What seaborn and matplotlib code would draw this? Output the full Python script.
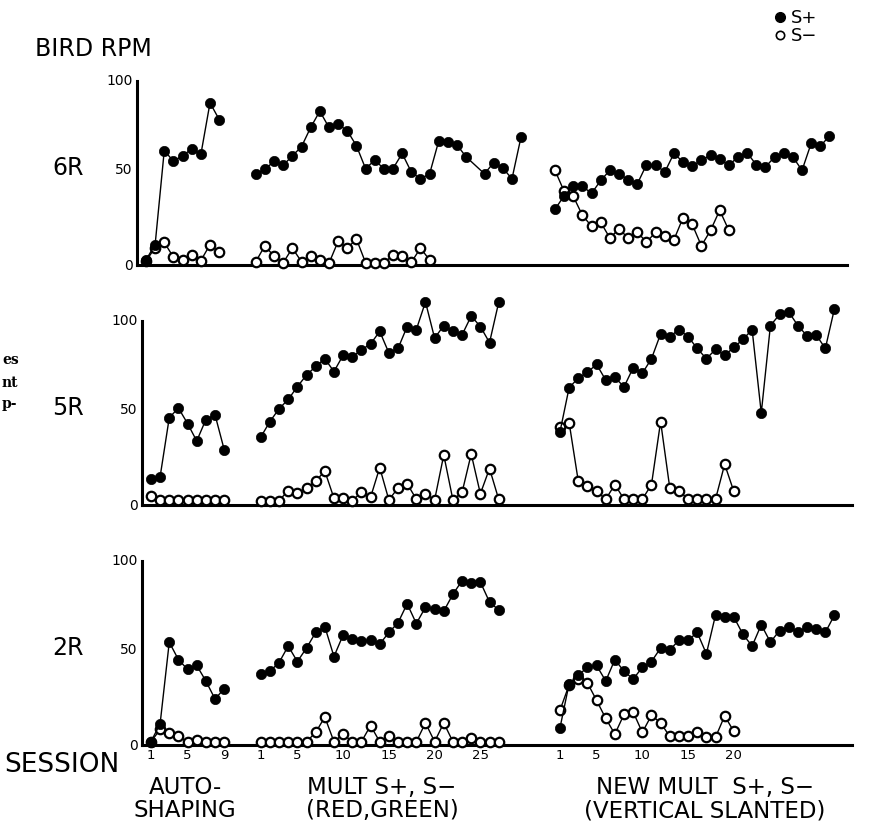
import numpy as np
import matplotlib
matplotlib.use('Agg')
import matplotlib.pyplot as plt
import matplotlib.transforms as mtrans
import seaborn as sns
from matplotlib.lines import Line2D

sns.set_style('white')
plt.rcParams['font.family'] = ['DejaVu Sans']
plt.rcParams['text.color'] = 'black'
plt.rcParams['xtick.color'] = 'black'
plt.rcParams['ytick.color'] = 'black'

# session numbers where the phases start on one common x scale
AUTO = 0
MULT = 12
NEW = 44.7

# bird 6R
r6_auto_sp = [2.6, 10.5, 59, 53.5, 56.3, 59.8, 57, 83.6, 75]
r6_auto_sm = [2, 9, 11.7, 4, 2.6, 5.2, 2.3, 10.5, 6.6]
r6_mult_sess = list(range(1, 25)) + list(range(26, 31))  # no point drawn at session 25
r6_mult_sp = [47, 49.3, 53.5, 51.4, 56.3, 61, 70.9, 79.3, 70.9, 72.6, 69.2, 61.5, 49.7, 54, 49.7,
              49.7, 57.5, 47.9, 44.4, 47, 64, 63.2, 61.8, 55.7, 47, 52.8, 50, 44.4, 66.2]
r6_mult_sm = [1.7, 10, 4.4, 1.2, 8.7, 1.7, 4.4, 2.6, 0.9, 12.2, 8.7, 13.4, 1.2, 1.2, 1.2, 4.9, 4.4,
              1.4, 8.7, 2.6]
r6_new_sp = [28.7, 35.7, 40.6, 40.6, 36.9, 43.6, 48.8, 47, 44, 41.8, 51.7, 51.7, 47.9, 57.5, 53.1,
             51, 54, 56.6, 54.5, 51.4, 55.7, 57.8, 51.7, 50.5, 55.7, 57.5, 55.7, 48.8, 62.7, 61.3, 66.5]
r6_new_sm = [48.8, 38, 35.4, 25.6, 20, 22, 13.9, 18.6, 13.9, 16.9, 11.8, 16.9, 15.2, 13, 24.4, 20.9,
             9.9, 17.8, 28.2, 17.9]

# bird 5R
r5_auto_sp = [13.5, 14.6, 45, 50, 42, 33, 44, 46.5, 28.6]
r5_auto_sm = [4.4, 2.6, 2.6, 2.6, 2.6, 2.6, 2.6, 2.6, 2.6]
r5_mult_sp = [35, 43, 49.6, 54.4, 61, 67, 71.4, 75.4, 68.8, 77.2, 76.3, 80, 83, 89.5, 78.4, 80.7,
              92, 90.4, 104.7, 86, 92.5, 89.5, 87.7, 97.4, 92, 83.7, 104.4]
r5_mult_sm = [2.3, 2.3, 2.3, 7.4, 6.1, 8.8, 12.3, 17.5, 3.5, 3.5, 2.3, 6.5, 4, 19.3, 2.6, 8.8, 11,
              3, 5.8, 2.6, 25.8, 2.6, 6.5, 26.3, 5.8, 18.8, 3]
r5_new_sp = [37.7, 60.5, 65.4, 68.4, 72.5, 64.4, 65.8, 60.9, 70.7, 67.9, 75.4, 88.2, 86.8, 90.4,
             86.8, 80.7, 75.4, 80.2, 77.2, 81.2, 85.4, 90.4, 47.4, 92.5, 98.2, 99.5, 92.5, 87.2,
             87.7, 80.7, 101.2]
r5_new_sm = [40, 42.5, 12.3, 9.6, 7, 3, 10.5, 3, 3, 3, 10.5, 43, 8.8, 7.4, 3, 3, 3, 3, 21, 7]

# bird 2R
r2_auto_sp = [1.7, 11, 53, 44, 39, 41, 33, 23.7, 29]
r2_auto_sm = [1.7, 8, 6, 4.4, 1.7, 2.6, 1.4, 1.4, 1.4]
r2_mult_sp = [36.5, 38, 42.5, 51, 43, 50, 58, 61, 45.6, 56.7, 54.4, 53.5, 53.9, 52, 58, 63, 72.8,
              62.6, 71, 70, 69, 77.7, 84.7, 83.3, 84, 73.7, 69.6]
r2_mult_sm = [1.7, 1.7, 1.7, 1.7, 1.7, 1.7, 6.5, 14.4, 1.7, 5.6, 1.7, 1.7, 10, 1.7, 4.4, 1.7, 1.7,
              1.7, 11.4, 1.7, 11.4, 1.7, 1.7, 3.5, 1.7, 1.7, 1.7]
r2_new_sp = [8.8, 31.6, 36, 40, 41, 33, 44, 38, 34, 40, 43, 50, 49, 54, 54, 58, 47, 67, 66, 66, 57,
             51, 62, 53, 59, 61, 58, 61, 60, 58, 67]
r2_new_sm = [17.9, 31, 34, 32, 23, 13.7, 5.6, 15.8, 17, 6.5, 15.3, 11.4, 4.4, 4.4, 4.4, 6.5, 4, 4,
             15, 7]

birds = ['6R', '5R', '2R']
auto_ticks = [1, 5, 9]
mult_ticks = [1, 5, 10, 15, 20, 25]
new_ticks = [1, 5, 10, 15, 20]

W, H = 869, 832
fig = plt.figure(figsize=(W / 100, H / 100), dpi=100)


def px(x, y):
    return x / W, 1 - y / H


def serie(ax, start, vals, open_marker, sess=None):
    if sess is None:
        sess = range(1, len(vals) + 1)
    x = [start + s - 1 for s in sess]
    kw = dict(color='k', lw=1.0, marker='o', markeredgecolor='k', clip_on=False, errorbar=None)
    if open_marker:
        sns.lineplot(x=x, y=vals, ax=ax, markersize=6.8, markerfacecolor='white',
                     markeredgewidth=1.6, zorder=3, **kw)
    else:
        sns.lineplot(x=x, y=vals, ax=ax, markersize=7.4, markerfacecolor='k',
                     markeredgewidth=0.5, zorder=4, **kw)


# panel boxes: left edge, baseline (pixels)
boxes = [(137, 265), (142, 505), (142, 745)]
# (S+, S+ sessions, S-)
data = [
    [(r6_auto_sp, None, r6_auto_sm), (r6_mult_sp, r6_mult_sess, r6_mult_sm), (r6_new_sp, None, r6_new_sm)],
    [(r5_auto_sp, None, r5_auto_sm), (r5_mult_sp, None, r5_mult_sm), (r5_new_sp, None, r5_new_sm)],
    [(r2_auto_sp, None, r2_auto_sm), (r2_mult_sp, None, r2_mult_sm), (r2_new_sp, None, r2_new_sm)],
]
starts = [AUTO, MULT, NEW]

# nudge the "100" label down onto the top of the axis line
shift = mtrans.ScaledTranslation(0, -6 / 72, fig.dpi_scale_trans)

axes = []
for i, (left, base) in enumerate(boxes):
    ax = fig.add_axes([left / W, 1 - base / H, 710 / W, 194 / H])
    for st, (sp, sp_sess, sm) in zip(starts, data[i]):
        serie(ax, st, sm, True)
        serie(ax, st, sp, False, sp_sess)
    ax.set_xlim(-0.98, -0.98 + 710 / 9.15)
    ax.set_ylim(0, 100)
    for s in ['top', 'right']:
        ax.spines[s].set_visible(False)
    for s in ['left', 'bottom']:
        ax.spines[s].set_linewidth(2.2)
        ax.spines[s].set_color('k')
    ax.spines['left'].set_bounds(0, 95)
    ax.set_yticks([0, 50, 100])
    ax.set_yticklabels(['0', '50', '100'], fontsize=10)
    ax.tick_params(axis='y', length=0, pad=3)
    lab100 = ax.get_yticklabels()[-1]
    lab100.set_transform(lab100.get_transform() + shift)
    ax.set_xlabel('')
    ax.set_ylabel('')
    fig.text(*px(68, base - 97), birds[i], fontsize=17, ha='center', va='center')
    axes.append(ax)

# sessions only under the last panel
for ax in axes[:2]:
    ax.set_xticks([])
tpos = [AUTO + s - 1 for s in auto_ticks] + [MULT + s - 1 for s in mult_ticks] + [NEW + s - 1 for s in new_ticks]
tlab = [str(s) for s in auto_ticks + mult_ticks + new_ticks]
axes[2].set_xticks(tpos)
axes[2].set_xticklabels(tlab, fontsize=9.5)
axes[2].tick_params(axis='x', length=0, pad=3)

fig.text(*px(35, 49), 'BIRD RPM', fontsize=17, ha='left', va='center')
fig.text(*px(4, 765), 'SESSION', fontsize=19, ha='left', va='center')
fig.text(*px(185, 799), 'AUTO-\nSHAPING', fontsize=16.5, ha='center', va='center', linespacing=1.05)
fig.text(*px(382, 799), 'MULT S+, S\u2212\n(RED,GREEN)', fontsize=16.5, ha='center', va='center',
         linespacing=1.05)
fig.text(*px(705, 799), 'NEW MULT  S+, S\u2212\n(VERTICAL SLANTED)', fontsize=16.5, ha='center',
         va='center', linespacing=1.05)

# bits of text from the next column of the page
for t, y in zip(['es', 'nt', 'p-'], [360, 383, 404]):
    fig.text(*px(2, y), t, fontsize=10, family='DejaVu Serif', weight='bold', ha='left', va='center')

handles = [Line2D([], [], ls='none', marker='o', color='k', markersize=7),
           Line2D([], [], ls='none', marker='o', markerfacecolor='white', markeredgecolor='k',
                  markersize=6, markeredgewidth=1.2)]
fig.legend(handles, ['S+', 'S\u2212'], loc='upper left', bbox_to_anchor=px(762, 0), frameon=False,
           fontsize=13, handletextpad=0.1, labelspacing=0.0, handlelength=1.0, borderpad=0.0)

fig.savefig('out.png', dpi=100)
